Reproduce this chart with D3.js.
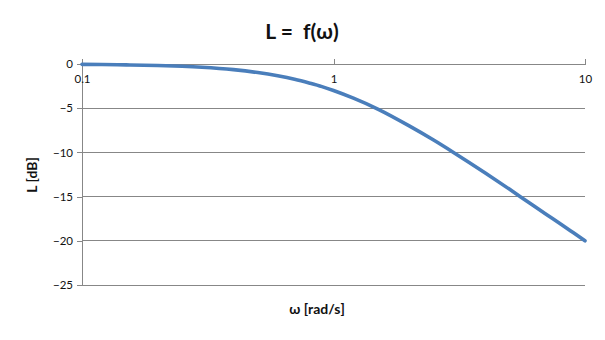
<!DOCTYPE html>
<html><head><meta charset="utf-8">
<script src="https://cdn.jsdelivr.net/npm/d3@7"></script>
<style>body{margin:0;background:#fff}svg{display:block}text{font-family:Lato,"Open Sans",sans-serif}</style>
</head><body>
<svg id="c" width="605" height="340"></svg>
<script>
const omega = [0.1,0.12,0.15,0.2,0.25,0.3,0.4,0.5,0.6,0.7,0.8,0.9,1,1.2,1.5,2,2.5,3,4,5,6,7,8,9,10];
const L = [-0.04,-0.06,-0.1,-0.17,-0.26,-0.37,-0.64,-0.97,-1.34,-1.73,-2.15,-2.56,-3.0,-3.87,-5.1,-7.0,-8.6,-10.0,-12.3,-14.15,-15.7,-17.0,-18.1,-19.1,-20.0];
const xTicks = [0.1, 1, 10];
const xTickLabels = ["0.1", "1", "10"];
const yTicks = [0, -5, -10, -15, -20, -25];
const title = "L =  f(ω)";
const xTitle = "ω [rad/s]";
const yTitle = "L [dB]";

const svg = d3.select("#c");
const mLeft = 82, mRight = 585, mTop = 64, mBottom = 285;
const x = d3.scaleLog().domain([0.1, 10]).range([mLeft, mRight]);
const y = d3.scaleLinear().domain([-25, 0]).range([mBottom, mTop]);
const grid = "#878787";

// horizontal gridlines
svg.append("g").selectAll("line").data(yTicks).join("line")
  .attr("x1", mLeft).attr("x2", mRight)
  .attr("y1", d => y(d)).attr("y2", d => y(d))
  .attr("stroke", grid).attr("stroke-width", 1).attr("shape-rendering", "crispEdges");

// y axis
const yAxis = d3.axisLeft(y).tickValues(yTicks).tickSize(5).tickPadding(4).tickFormat(d3.format("d"));
const gy = svg.append("g").attr("transform", `translate(${mLeft},0)`).call(yAxis);
gy.select(".domain").attr("stroke", grid).attr("shape-rendering", "crispEdges");
gy.selectAll(".tick line").attr("stroke", grid).attr("shape-rendering", "crispEdges");
gy.selectAll(".tick text").attr("font-size", 11.5).attr("fill", "#111").style("font-family", "Lato,'Open Sans',sans-serif");

// x axis at top (y=0), ticks upward, labels below
const xAxis = d3.axisTop(x).tickValues(xTicks).tickSize(5).tickFormat((d, i) => xTickLabels[i]);
const gx = svg.append("g").attr("transform", `translate(0,${y(0)})`).call(xAxis);
gx.select(".domain").attr("stroke", grid).attr("shape-rendering", "crispEdges");
gx.selectAll(".tick line").attr("stroke", grid).attr("shape-rendering", "crispEdges");
gx.selectAll(".tick text").attr("font-size", 11.5).attr("fill", "#111")
  .attr("y", 19).attr("dy", 0).style("font-family", "Lato,'Open Sans',sans-serif");

// line
const line = d3.line().x((d, i) => x(omega[i])).y(d => y(d)).curve(d3.curveMonotoneX);
svg.append("path").datum(L).attr("d", line)
  .attr("fill", "none").attr("stroke", "#4a7ebb").attr("stroke-width", 3.6)
  .attr("stroke-linecap", "round").attr("stroke-linejoin", "round");

// titles
svg.append("text").attr("x", 302).attr("y", 39).attr("text-anchor", "middle")
  .style("white-space", "pre")
  .attr("font-size", 21).attr("font-weight", "bold").attr("fill", "#111").text(title);
svg.append("text").attr("x", 317).attr("y", 314).attr("text-anchor", "middle")
  .attr("font-size", 14).attr("font-weight", "bold").attr("fill", "#111").text(xTitle);
svg.append("text").attr("transform", "translate(37,175) rotate(-90)").attr("text-anchor", "middle")
  .attr("font-size", 14).attr("font-weight", "bold").attr("fill", "#111").text(yTitle);
</script>
</body></html>
